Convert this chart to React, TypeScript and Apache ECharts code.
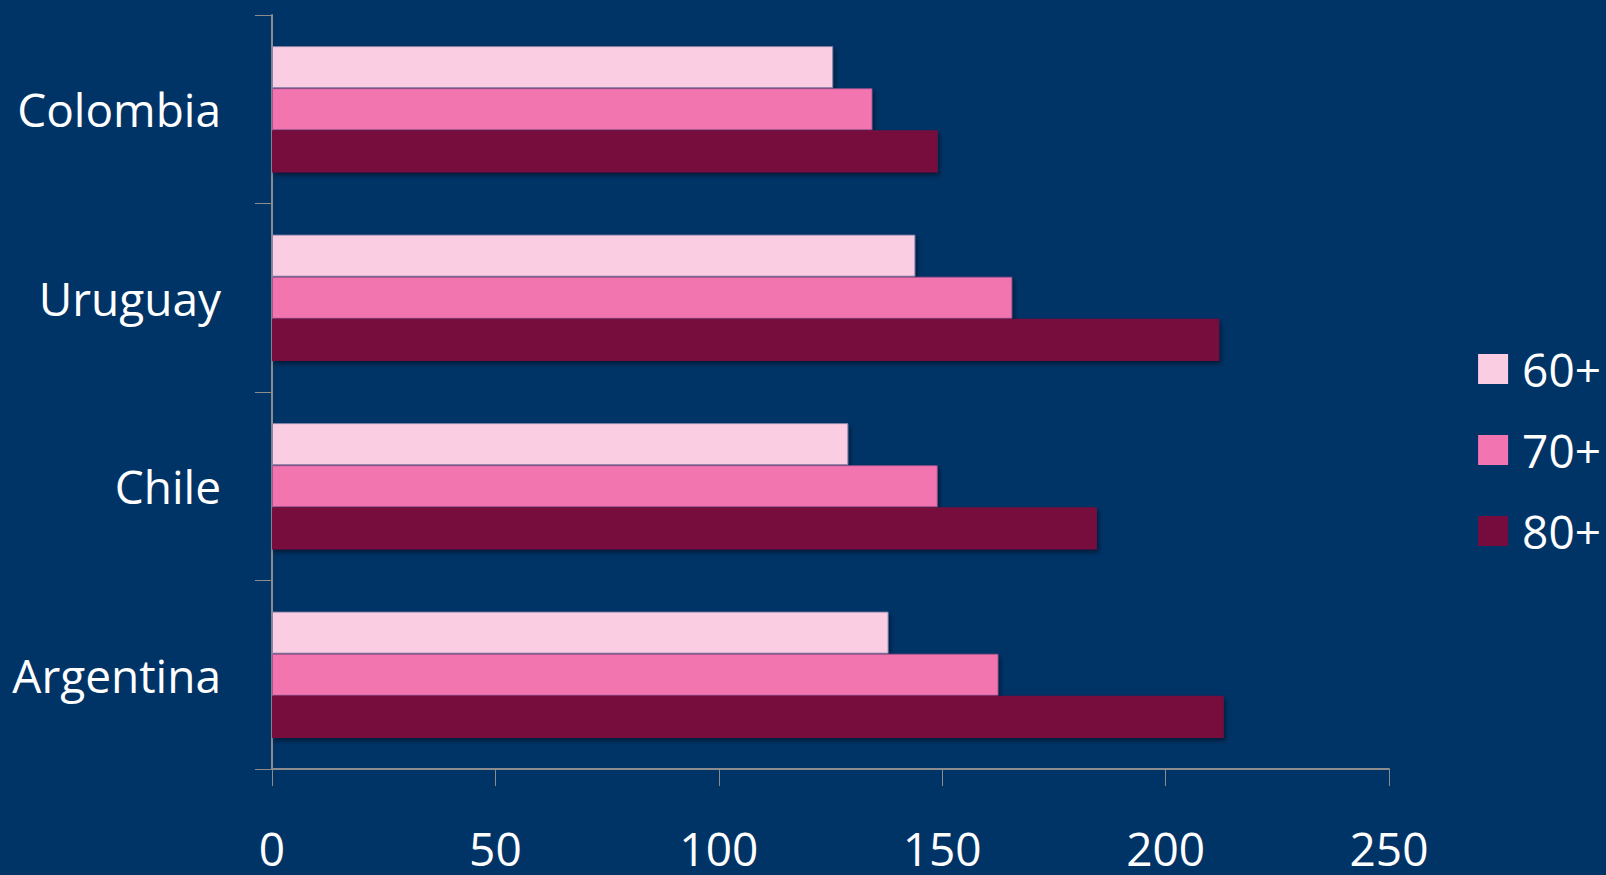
import React, { useEffect, useRef } from "react";
import * as echarts from "echarts";

const categories = ["Argentina", "Chile", "Uruguay", "Colombia"];
const series60 = [138, 129, 144, 125.6];
const series70 = [162.6, 149, 165.7, 134.4];
const series80 = [213, 184.6, 212, 149];
const xTicks = [0, 50, 100, 150, 200, 250];

const FONT = "'Open Sans', sans-serif";

export default function App() {
  const ref = useRef<HTMLDivElement>(null);
  useEffect(() => {
    if (!ref.current) return;
    const chart = echarts.init(ref.current, null, { renderer: "svg" });
    const shadow = {
      shadowColor: "rgba(0,0,0,0.45)",
      shadowBlur: 4,
      shadowOffsetX: 2,
      shadowOffsetY: 3,
    };
    chart.setOption({
      animation: false,
      backgroundColor: "#003366",
      grid: { left: 272, right: 217, top: 15, bottom: 106, containLabel: false },
      legend: {
        orient: "vertical",
        right: 0,
        top: 341,
        itemWidth: 30,
        itemHeight: 30,
        itemGap: 35,
        icon: "rect",
        data: ["60+", "70+", "80+"],
        itemStyle: { borderWidth: 0, shadowBlur: 0, shadowOffsetX: 0, shadowOffsetY: 0 },
        textStyle: { color: "#ffffff", fontSize: 46, fontFamily: FONT, padding: [0, 0, 0, 9] },
      },
      xAxis: {
        type: "value",
        min: 0,
        max: 250,
        interval: 50,
        splitLine: { show: false },
        axisLine: { show: true, lineStyle: { color: "#8c8c8c", width: 2 } },
        axisTick: { show: true, length: 17, lineStyle: { color: "#8c8c8c", width: 1 } },
        axisLabel: {
          color: "#ffffff",
          fontSize: 46,
          lineHeight: 46,
          fontFamily: FONT,
          margin: 56,
          formatter: (v: number) => (xTicks.includes(v) ? String(v) : ""),
        },
      },
      yAxis: {
        type: "category",
        data: categories,
        axisLine: { show: true, lineStyle: { color: "#8c8c8c", width: 2 } },
        axisTick: { show: true, length: 17, lineStyle: { color: "#8c8c8c", width: 1 } },
        axisLabel: { color: "#ffffff", fontSize: 46, fontFamily: FONT, margin: 51 },
      },
      series: [
        {
          name: "60+",
          type: "bar",
          data: series60,
          barGap: "0%",
          barCategoryGap: "33%",
          itemStyle: { color: "#FBCDE2", borderColor: "rgba(130,130,170,0.9)", borderWidth: 1, ...shadow },
        },
        {
          name: "70+",
          type: "bar",
          data: series70,
          barGap: "0%",
          barCategoryGap: "33%",
          itemStyle: { color: "#F274B0", borderColor: "rgba(160,80,140,0.8)", borderWidth: 1, ...shadow },
        },
        {
          name: "80+",
          type: "bar",
          data: series80,
          barGap: "0%",
          barCategoryGap: "33%",
          itemStyle: { color: "#760C3E", ...shadow },
        },
      ],
    });
    return () => chart.dispose();
  }, []);
  return (
    <div
      ref={ref}
      style={{ position: "absolute", left: 0, top: 0, width: 1606, height: 875 }}
    />
  );
}
